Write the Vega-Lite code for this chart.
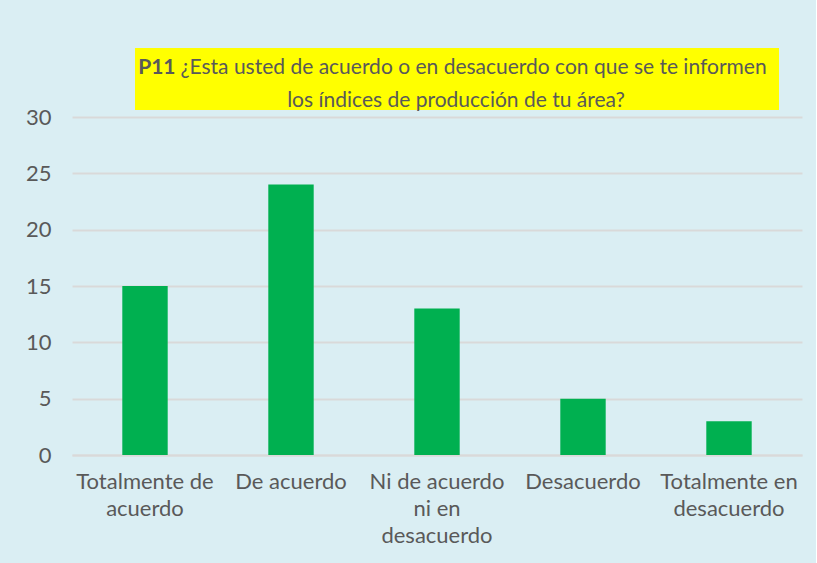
{
  "$schema": "https://vega.github.io/schema/vega-lite/v6.json",
  "background": "#DAEEF3",
  "padding": {"left": 25, "top": 48, "right": 14, "bottom": 20},
  "config": {
    "font": "Lato",
    "view": {"stroke": null}
  },
  "vconcat": [
    {
      "hconcat": [
        {
          "width": 63,
          "height": 62,
          "data": {"values": [{"t": ""}]},
          "mark": {"type": "text"},
          "encoding": {}
        },
        {
          "width": 644,
          "height": 62,
          "view": {"fill": "#FFFF00", "stroke": null},
          "data": {
            "values": [
              {"linea": 1, "parte": "codigo", "texto": "P11"},
              {"linea": 1, "parte": "pregunta", "texto": "¿Esta usted de acuerdo o en desacuerdo con que se te informen"},
              {"linea": 2, "parte": "continuacion", "texto": "los índices de producción de tu área?"}
            ]
          },
          "encoding": {
            "y": {"field": "linea", "type": "ordinal", "axis": null, "scale": {"type": "point", "padding": 0.443}},
            "text": {"field": "texto"}
          },
          "layer": [
            {
              "transform": [{"filter": "datum.parte == 'codigo'"}],
              "mark": {"type": "text", "align": "right", "baseline": "alphabetic", "dx": -281.5, "dy": 11.5, "fontSize": 21, "fontWeight": "bold", "color": "#595959"}
            },
            {
              "transform": [{"filter": "datum.parte == 'pregunta'"}],
              "mark": {"type": "text", "align": "left", "baseline": "alphabetic", "dx": -276.5, "dy": 11.5, "fontSize": 21, "color": "#595959"}
            },
            {
              "transform": [{"filter": "datum.parte == 'continuacion'"}],
              "mark": {"type": "text", "align": "center", "baseline": "alphabetic", "dx": -1, "dy": 11.5, "fontSize": 21, "color": "#595959"}
            }
          ]
        }
      ],
      "spacing": 0
    },
    {
      "width": 730,
      "height": 338,
      "data": {
        "values": [
          {"respuesta": "Totalmente de acuerdo", "valor": 15},
          {"respuesta": "De acuerdo", "valor": 24},
          {"respuesta": "Ni de acuerdo ni en desacuerdo", "valor": 13},
          {"respuesta": "Desacuerdo", "valor": 5},
          {"respuesta": "Totalmente en desacuerdo", "valor": 3}
        ]
      },
      "mark": {"type": "bar", "color": "#00B050"},
      "encoding": {
        "x": {
          "field": "respuesta",
          "type": "nominal",
          "sort": null,
          "scale": {"paddingInner": 0.689, "paddingOuter": 0.3445},
          "axis": {
            "title": null,
            "labelAngle": 0,
            "labelFontSize": 22,
            "labelColor": "#595959",
            "labelLineHeight": 27,
            "labelPadding": 16,
            "labelLimit": 300,
            "ticks": false,
            "domainColor": "#D9D9D9",
            "domainWidth": 2,
            "labelExpr": "datum.label == 'Totalmente de acuerdo' ? ['Totalmente de', 'acuerdo'] : datum.label == 'Ni de acuerdo ni en desacuerdo' ? ['Ni de acuerdo', 'ni en', 'desacuerdo'] : datum.label == 'Totalmente en desacuerdo' ? ['Totalmente en', 'desacuerdo'] : datum.label"
          }
        },
        "y": {
          "field": "valor",
          "type": "quantitative",
          "scale": {"domain": [0, 30]},
          "axis": {
            "title": null,
            "values": [0, 5, 10, 15, 20, 25, 30],
            "labelFontSize": 22,
            "labelColor": "#595959",
            "labelPadding": 21,
            "ticks": false,
            "domain": false,
            "gridColor": "#D9D9D9",
            "gridWidth": 2
          }
        }
      }
    }
  ],
  "spacing": -5
}
